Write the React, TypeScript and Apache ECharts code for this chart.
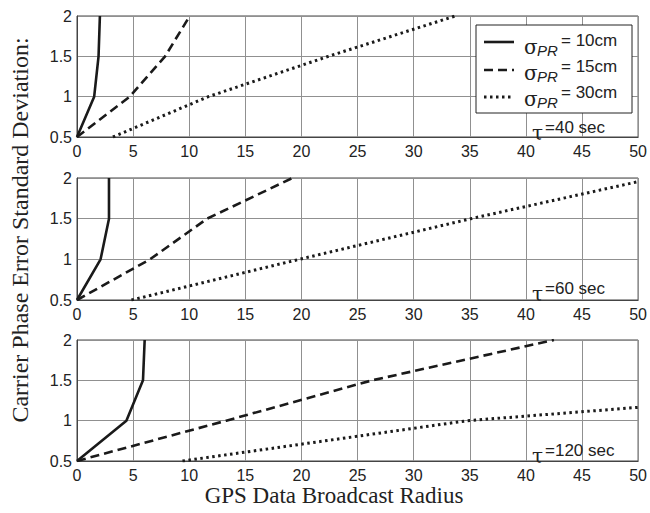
import React, { useEffect, useRef } from "react";
import * as echarts from "echarts";

// Tick labels
const xTicks = [0, 5, 10, 15, 20, 25, 30, 35, 40, 45, 50];
const yTicks = [0.5, 1, 1.5, 2];
const panelTaus = ["=40 sec", "=60 sec", "=120 sec"];
const legendLabels = ["= 10cm", "= 15cm", "= 30cm"];

// y levels shared by all curves
const yLevels = [0.5, 1, 1.5, 2];

// tau = 40 sec
const tau40_10cm = [0, 1.53, 1.92, 2.04];
const tau40_15cm = [0, 4.7, 7.85, 10.05];
const tau40_30cm = [3.2, 11.7, 22.4, 33.7];

// tau = 60 sec
const tau60_10cm = [0, 2.1, 2.85, 2.85];
const tau60_15cm = [0, 6.5, 11.6, 19.2];
const tau60_30cm = [4.85, 19.8, 35.1];
const tau60_30cm_end = [50, 1.955];

// tau = 120 sec
const tau120_10cm = [0, 4.4, 5.88, 6.03];
const tau120_15cm = [0, 13.3, 26.3, 42.5];
const tau120_30cm = [9.4, 34.8];
const tau120_30cm_end = [50, 1.165];

const pair = (xs: number[]) => xs.map((x, i) => [x, yLevels[i]]);

export default function App() {
  const ref = useRef<HTMLDivElement>(null);
  useEffect(() => {
    if (!ref.current) return;
    const chart = echarts.init(ref.current, undefined, { renderer: "svg" });

    const grids = [
      { left: 77, width: 564, top: 16, height: 121 },
      { left: 77, width: 564, top: 178, height: 122 },
      { left: 77, width: 564, top: 340, height: 121 },
    ].map((g) => ({ ...g, show: true, borderColor: "#444", borderWidth: 1, backgroundColor: "#fff" }));

    const xAxes = [0, 1, 2].map((i) => ({
      type: "value",
      gridIndex: i,
      min: 0,
      max: 50,
      interval: 5,
      axisLine: { show: true, lineStyle: { color: "#444", width: 1 } },
      axisTick: { show: false },
      axisLabel: {
        color: "#222",
        fontFamily: "Liberation Sans, Arial, sans-serif",
        fontSize: 16,
        margin: 6,
        formatter: (v: number) => (xTicks.includes(v) ? String(v) : ""),
      },
      splitLine: { show: true, lineStyle: { color: "#909090", width: 1 } },
    }));

    const yAxes = [0, 1, 2].map((i) => ({
      type: "value",
      gridIndex: i,
      min: 0.5,
      max: 2,
      interval: 0.5,
      axisLine: { show: true, lineStyle: { color: "#444", width: 1 } },
      axisTick: { show: false },
      axisLabel: {
        color: "#222",
        fontFamily: "Liberation Sans, Arial, sans-serif",
        fontSize: 16,
        margin: 5,
        formatter: (v: number) => (yTicks.includes(v) ? String(v) : ""),
      },
      splitLine: { show: true, lineStyle: { color: "#909090", width: 1 } },
    }));

    const solid = { color: "#1a1a1a", width: 2.6, type: "solid" };
    const dashed = { color: "#1a1a1a", width: 2.6, type: [9, 5] };
    const dotted = { color: "#1a1a1a", width: 3, type: [2.5, 3.5] };

    const mk = (data: number[][], idx: number, ls: any) => ({
      type: "line",
      xAxisIndex: idx,
      yAxisIndex: idx,
      data,
      symbol: "none",
      lineStyle: ls,
      clip: true,
      silent: true,
    });

    const series = [
      mk(pair(tau40_10cm), 0, solid),
      mk(pair(tau40_15cm), 0, dashed),
      mk(pair(tau40_30cm), 0, dotted),
      mk(pair(tau60_10cm), 1, solid),
      mk(pair(tau60_15cm), 1, dashed),
      mk([...pair(tau60_30cm), tau60_30cm_end], 1, dotted),
      mk(pair(tau120_10cm), 2, solid),
      mk(pair(tau120_15cm), 2, dashed),
      mk([...pair(tau120_30cm), tau120_30cm_end], 2, dotted),
    ];

    const legendStyles = [solid, dashed, dotted];
    const rowLineY = [42, 70, 97];
    const rowTextY = [40, 66, 92];
    const graphic: any[] = [
      {
        type: "rect",
        shape: { x: 476, y: 25, width: 156, height: 88 },
        style: { fill: "#fff", stroke: "#222", lineWidth: 1 },
        z: 100,
      },
    ];
    legendStyles.forEach((ls, i) => {
      graphic.push({
        type: "line",
        shape: { x1: 484, y1: rowLineY[i], x2: 514, y2: rowLineY[i] },
        style: { stroke: ls.color, lineWidth: ls.width, lineDash: ls.type === "solid" ? null : ls.type },
        z: 101,
      });
      graphic.push({
        type: "text",
        x: 524,
        y: rowTextY[i] + 7,
        style: { text: "σ", fontSize: 20, fontFamily: "DejaVu Serif, serif", fill: "#222", verticalAlign: "middle" },
        z: 101,
      });
      graphic.push({
        type: "text",
        x: 537,
        y: rowTextY[i] + 10,
        style: { text: "PR", fontSize: 15, fontStyle: "italic", fontFamily: "Liberation Sans, Arial, sans-serif", fill: "#222", verticalAlign: "middle" },
        z: 101,
      });
      graphic.push({
        type: "text",
        x: 561,
        y: rowTextY[i],
        style: { text: legendLabels[i], fontSize: 17, fontFamily: "Liberation Sans, Arial, sans-serif", fill: "#222", verticalAlign: "middle" },
        z: 101,
      });
    });

    const tauY = [127, 288, 450];
    tauY.forEach((y, i) => {
      graphic.push({
        type: "text",
        x: 532,
        y: y + 6,
        style: { text: "τ", fontSize: 20, fontFamily: "DejaVu Serif, serif", fill: "#222", verticalAlign: "middle" },
        z: 101,
      });
      graphic.push({
        type: "text",
        x: 545,
        y: y,
        style: { text: panelTaus[i], fontSize: 17, fontFamily: "Liberation Sans, Arial, sans-serif", fill: "#222", verticalAlign: "middle" },
        z: 101,
      });
    });

    graphic.push({
      type: "text",
      x: 20,
      y: 230,
      rotation: Math.PI / 2,
      style: {
        text: "Carrier Phase Error Standard Deviation:",
        fontSize: 24,
        fontFamily: "Liberation Serif, Times New Roman, serif",
        fill: "#222",
        align: "center",
        verticalAlign: "middle",
      },
    });
    graphic.push({
      type: "text",
      x: 334,
      y: 495,
      style: {
        text: "GPS Data Broadcast Radius",
        fontSize: 23,
        fontFamily: "Liberation Serif, Times New Roman, serif",
        fill: "#222",
        align: "center",
        verticalAlign: "middle",
      },
    });

    chart.setOption({
      animation: false,
      backgroundColor: "#fff",
      grid: grids,
      xAxis: xAxes,
      yAxis: yAxes,
      series,
      graphic,
    });
    return () => chart.dispose();
  }, []);
  return <div ref={ref} style={{ width: 650, height: 513, position: "absolute", left: 0, top: 0 }} />;
}
